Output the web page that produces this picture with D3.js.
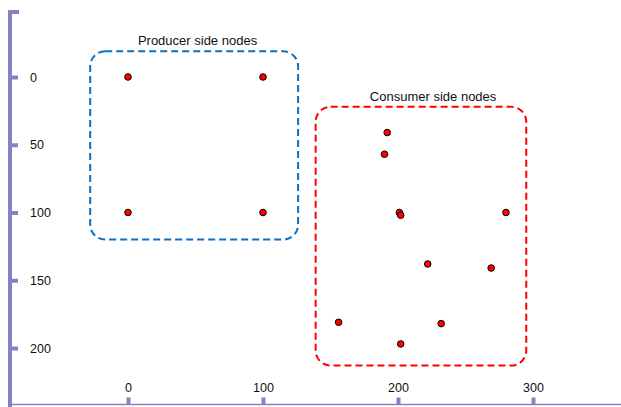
<!DOCTYPE html>
<html>
<head>
<meta charset="utf-8">
<script src="https://cdn.jsdelivr.net/npm/d3@7"></script>
<style>
  body { margin: 0; background: #fff; }
  svg text { font-family: "Liberation Sans", Arial, sans-serif; font-size: 12.5px; fill: #111; }
</style>
</head>
<body>
<svg id="chart"></svg>
<script>
const W = 621, H = 407;

// node positions (x, y in chart units)
const producerX = [0, 100, 0, 100];
const producerY = [0, 0, 100, 100];
const consumerX = [192, 190, 201, 202, 280, 222, 269, 156, 232, 202];
const consumerY = [41, 57, 100, 102, 100, 138, 141, 181, 182, 197];

// tick labels
const xTicks = [0, 100, 200, 300];
const yTicks = [0, 50, 100, 150, 200];

// group frames: [x0, x1, y0, y1] and labels
const groupNames = ["Producer side nodes", "Consumer side nodes"];
const groupBounds = [[-28, 126, -19, 120], [139, 295, 22, 213]];
const groupLabelX = [51.5, 226];
const groupColors = ["#0a70c4", "#ff0000"];

const axisColor = "#8282c4";

const svg = d3.select("#chart").attr("width", W).attr("height", H);

const x = d3.scaleLinear().domain([0, 300]).range([128, 533]);
const y = d3.scaleLinear().domain([0, 200]).range([77, 348]);

// bottom axis
const xAxis = d3.axisTop(x).tickValues(xTicks).tickSize(7).tickPadding(6).tickSizeOuter(0);
const gx = svg.append("g").attr("transform", "translate(0,404.5)").call(xAxis);
gx.select(".domain").remove();
gx.append("line").attr("x1", 10).attr("x2", W).attr("stroke", axisColor).attr("stroke-width", 1.5);
gx.selectAll(".tick line").attr("stroke", axisColor).attr("stroke-width", 4);
gx.selectAll(".tick text").attr("fill", "#111").style("font-size", "12.5px");

// left axis
const yAxis = d3.axisRight(y).tickValues(yTicks).tickSize(8).tickPadding(12).tickSizeOuter(0);
const gy = svg.append("g").attr("transform", "translate(10,0)").call(yAxis);
gy.select(".domain").remove();
gy.append("path")
  .attr("d", `M9,${y(-48)}H0V${H}`)
  .attr("fill", "none").attr("stroke", axisColor).attr("stroke-width", 4);
gy.selectAll(".tick line").attr("stroke", axisColor).attr("stroke-width", 4);
gy.selectAll(".tick text").attr("fill", "#111").style("font-size", "12.5px");

// group frames
groupBounds.forEach((b, i) => {
  svg.append("rect")
    .attr("x", x(b[0])).attr("y", y(b[2]))
    .attr("width", x(b[1]) - x(b[0])).attr("height", y(b[3]) - y(b[2]))
    .attr("rx", 15).attr("ry", 15)
    .attr("fill", "none")
    .attr("stroke", groupColors[i]).attr("stroke-width", 2)
    .attr("stroke-dasharray", "7,4");
  svg.append("text")
    .attr("x", x(groupLabelX[i]))
    .attr("y", y(b[2]) - 6)
    .attr("text-anchor", "middle")
    .style("font-size", "13px")
    .text(groupNames[i]);
});

// nodes
const nodes = producerX.map((d, i) => ({ x: d, y: producerY[i] }))
  .concat(consumerX.map((d, i) => ({ x: d, y: consumerY[i] })));

svg.selectAll("circle.node")
  .data(nodes)
  .enter()
  .append("circle")
    .attr("class", "node")
    .attr("cx", d => x(d.x))
    .attr("cy", d => y(d.y))
    .attr("r", 3.3)
    .attr("fill", "#ff0000")
    .attr("stroke", "#000")
    .attr("stroke-width", 1);
</script>
</body>
</html>
